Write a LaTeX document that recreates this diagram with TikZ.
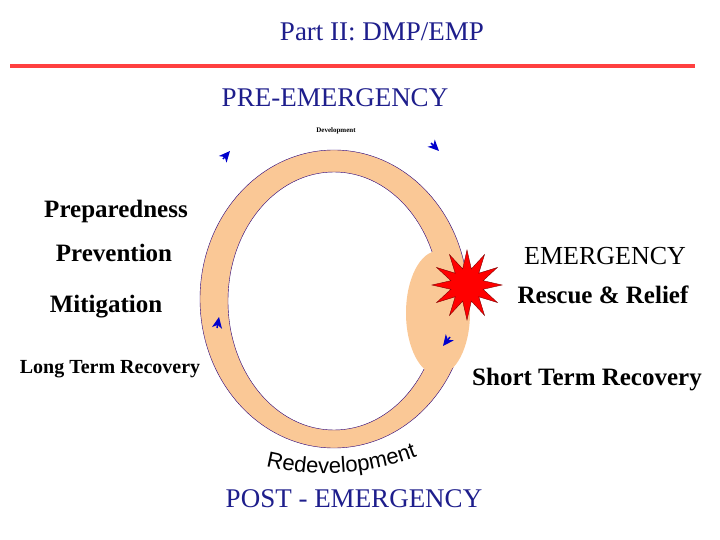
\documentclass[tikz,border=0pt]{standalone}
\usepackage{fontspec}
\setmainfont{Liberation Serif}
\newfontfamily\arialfont{Liberation Sans}
\usetikzlibrary{shapes.geometric,shapes.misc,decorations.text,arrows.meta}
\definecolor{ringfill}{RGB}{250,200,150}
\definecolor{titleblue}{RGB}{30,30,140}
\definecolor{lineblue}{RGB}{40,0,120}
\tikzset{
  phase/.style={font=\fontsize{25}{28}\selectfont\bfseries},
  head/.style={font=\fontsize{27}{30}\selectfont, text=titleblue},
  tip/.style={-{Stealth[length=11pt,width=10pt,inset=3pt]}, blue!80!black, line width=1.5pt}
}
\begin{document}
\begin{tikzpicture}[x=1pt,y=-1pt,>=latex]
    \useasboundingbox (0,0) rectangle (720,540);

    % header
    \node[head] (title) at (382,32) {Part II: DMP/EMP};
    \coordinate (lineL) at (10,66);
    \coordinate (lineR) at (695,66);
    \draw[line width=3.5pt,red!75!white] (lineL) -- (lineR);
    \node[head] (pre) at (335,98) {PRE-EMERGENCY};
    \node[head] (post) at (354,499) {POST - EMERGENCY};

    % ring
    \fill[ringfill,draw=lineblue,even odd rule] (334,299) ellipse [x radius=134, y radius=149]
                                                (334,301) ellipse [x radius=106, y radius=129];
    \fill[ringfill] (438,313) ellipse [x radius=32, y radius=62];
    \node[star,star points=12,star point ratio=2.1,minimum size=70pt,inner sep=0pt,
          fill=red,draw=red!50!black] (burst) at (467,285) {};

    % arrows round the cycle
    \draw[tip] (223,159) -- (230,151);
    \draw[tip] (431,143) -- (439,151);
    \draw[tip] (217,328) -- (219,317);
    \draw[tip] (450,337) -- (443,346);

    \node[font=\fontsize{7}{8}\selectfont\bfseries] (dev) at (336,131) {Development};
    \path[decorate,decoration={text along path,text align=center,
          text={|\arialfont\fontsize{22}{24}\selectfont|Redevelopment}}]
          (255,463) .. controls (312,480) and (372,476) .. (428,452);

    % phases
    \node[phase] (prep) at (116,211) {Preparedness};
    \node[phase] (prev) at (114,253) {Prevention};
    \node[phase] (miti) at (106,307) {Mitigation};
    \node[font=\fontsize{20}{22}\selectfont\bfseries] (ltr) at (110,369) {Long Term Recovery};
    \node[font=\fontsize{26}{28}\selectfont] (emer) at (605,256) {EMERGENCY};
    \node[phase] (resc) at (603,295) {Rescue \& Relief};
    \node[phase] (str) at (587,380) {Short Term Recovery};
\end{tikzpicture}
\end{document}
